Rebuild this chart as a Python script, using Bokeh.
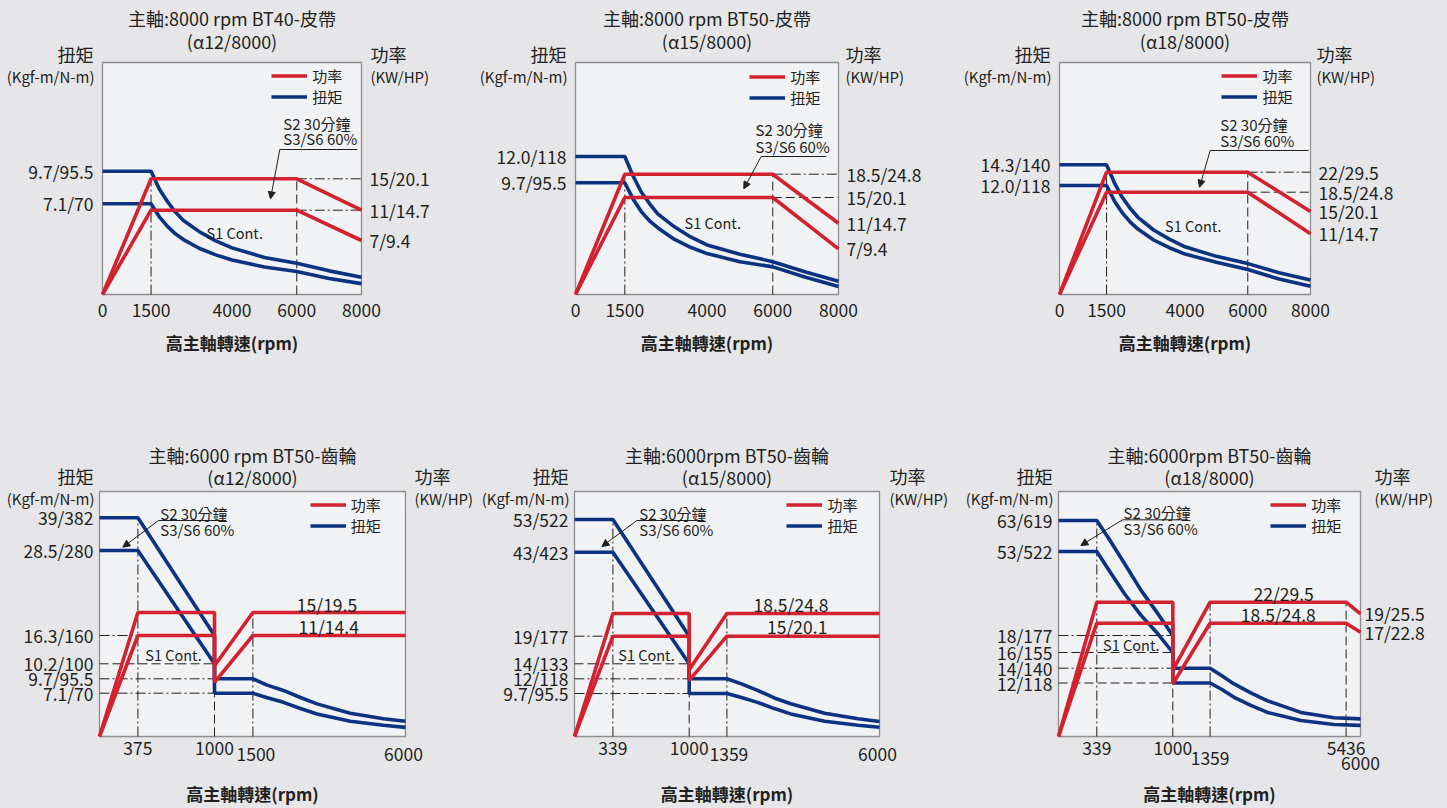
import numpy as np
from bokeh.plotting import figure
from bokeh.layouts import row, column
from bokeh.models import (Range1d, FixedTicker, Label, Arrow, NormalHead,
                          Legend, LegendItem, LinearAxis)
from bokeh.embed import file_html
from bokeh.resources import INLINE

# ============================ DATA ============================
# ---- Panel 1 : 8000 rpm BT40 belt (a12/8000)
P1_TITLE = ["主軸:8000 rpm BT40-皮帶", "(α12/8000)"]
P1_X_TICKS = [0, 1500, 4000, 6000, 8000]
P1_TQ_TICKS = [9.7, 7.1]
P1_TQ_LABELS = ["9.7/95.5", "7.1/70"]
P1_PW_TICKS = [15, 11, 7]
P1_PW_LABELS = ["15/20.1", "11/14.7", "7/9.4"]
P1_RPM_T = [0, 1500, 1750, 2000, 2250, 2500, 3000, 3500, 4000, 5000, 6000, 7000, 8000]
P1_TQ_S2 = [9.7, 9.7, 8.3, 7.3, 6.45, 5.8, 4.9, 4.2, 3.65, 2.9, 2.45, 1.85, 1.35]
P1_TQ_S1 = [7.1, 7.1, 6.1, 5.35, 4.75, 4.3, 3.6, 3.1, 2.7, 2.15, 1.8, 1.25, 0.85]
P1_RPM_P = [0, 1500, 6000, 8000]
P1_PW_S2 = [0, 15, 15, 11]
P1_PW_S1 = [0, 11, 11, 7]

# ---- Panel 2 : 8000 rpm BT50 belt (a15/8000)
P2_TITLE = ["主軸:8000 rpm BT50-皮帶", "(α15/8000)"]
P2_X_TICKS = [0, 1500, 4000, 6000, 8000]
P2_TQ_TICKS = [12.0, 9.7]
P2_TQ_LABELS = ["12.0/118", "9.7/95.5"]
P2_PW_TICKS = [18.5, 15, 11, 7]
P2_PW_LABELS = ["18.5/24.8", "15/20.1", "11/14.7", "7/9.4"]
P2_RPM_T = [0, 1500, 1750, 2000, 2250, 2500, 3000, 3500, 4000, 5000, 6000, 7000, 8000]
P2_TQ_S2 = [12.0, 12.0, 10.3, 8.9, 7.9, 7.0, 5.9, 5.0, 4.3, 3.5, 2.85, 1.95, 1.15]
P2_TQ_S1 = [9.7, 9.7, 8.3, 7.2, 6.4, 5.8, 4.8, 4.1, 3.55, 2.85, 2.4, 1.5, 0.7]
P2_RPM_P = [0, 1500, 6000, 8000]
P2_PW_S2 = [0, 18.5, 18.5, 11]
P2_PW_S1 = [0, 15, 15, 7]

# ---- Panel 3 : 8000 rpm BT50 belt (a18/8000)
P3_TITLE = ["主軸:8000 rpm BT50-皮帶", "(α18/8000)"]
P3_X_TICKS = [0, 1500, 4000, 6000, 8000]
P3_TQ_TICKS = [14.3, 12.0]
P3_TQ_LABELS = ["14.3/140", "12.0/118"]
P3_PW_TICKS = [22, 18.5, 15, 11]
P3_PW_LABELS = ["22/29.5", "18.5/24.8", "15/20.1", "11/14.7"]
P3_RPM_T = [0, 1500, 1750, 2000, 2250, 2500, 3000, 3500, 4000, 5000, 6000, 7000, 8000]
P3_TQ_S2 = [14.3, 14.3, 12.3, 10.7, 9.5, 8.5, 7.1, 6.1, 5.25, 4.2, 3.4, 2.4, 1.6]
P3_TQ_S1 = [12.0, 12.0, 10.3, 9.0, 8.0, 7.2, 6.0, 5.15, 4.45, 3.55, 2.75, 1.7, 0.9]
P3_RPM_P = [0, 1500, 6000, 8000]
P3_PW_S2 = [0, 22, 22, 15]
P3_PW_S1 = [0, 18.5, 18.5, 11]

# ---- Panel 4 : 6000 rpm BT50 gear (a12/8000)
P4_TITLE = ["主軸:6000 rpm BT50-齒輪", "(α12/8000)"]
P4_X_TICKS = [375, 1000]
P4_X_TICKS_LOW = [1500, 6000]
P4_TQ_TICKS = [39, 28.5, 16.3, 10.2, 9.7, 7.1]
P4_TQ_LABELS = ["39/382", "28.5/280", "16.3/160", "10.2/100", "9.7/95.5", "7.1/70"]
P4_RPM_T = [0, 375, 1000, 1000, 1500, 1900, 2400, 2900, 3390, 4370, 5350, 6000]
P4_TQ_S2 = [39, 39, 16.3, 9.7, 9.7, 8.6, 7.6, 6.4, 5.35, 3.8, 2.9, 2.5]
P4_TQ_S1 = [28.5, 28.5, 10.2, 7.1, 7.1, 6.4, 5.6, 4.6, 3.7, 2.5, 1.85, 1.5]
P4_RPM_P = [0, 375, 1000, 1000, 1500, 6000]
P4_PW_S2 = [0, 15, 15, 7.7, 15, 15]
P4_PW_S1 = [0, 11, 11, 5.9, 11, 11]
P4_PW_TEXT = ["15/19.5", "11/14.4"]

# ---- Panel 5 : 6000 rpm BT50 gear (a15/8000)
P5_TITLE = ["主軸:6000rpm BT50-齒輪", "(α15/8000)"]
P5_X_TICKS = [339, 1000]
P5_X_TICKS_LOW = [1359, 6000]
P5_TQ_TICKS = [53, 43, 19, 14, 12, 9.7]
P5_TQ_LABELS = ["53/522", "43/423", "19/177", "14/133", "12/118", "9.7/95.5"]
P5_RPM_T = [0, 339, 1000, 1000, 1359, 1800, 2290, 2800, 3300, 4330, 5350, 6000]
P5_TQ_S2 = [53, 53, 19, 12, 12, 11.2, 10.2, 8.7, 7.4, 5.25, 4.0, 3.4]
P5_TQ_S1 = [43, 43, 14, 9.7, 9.7, 8.8, 7.7, 6.3, 5.1, 3.45, 2.55, 2.1]
P5_RPM_P = [0, 339, 1000, 1000, 1359, 6000]
P5_PW_S2 = [0, 18.5, 18.5, 10, 18.5, 18.5]
P5_PW_S1 = [0, 15, 15, 8.4, 15, 15]
P5_PW_TEXT = ["18.5/24.8", "15/20.1"]

# ---- Panel 6 : 6000 rpm BT50 gear (a18/8000)
P6_TITLE = ["主軸:6000rpm BT50-齒輪", "(α18/8000)"]
P6_X_TICKS = [339, 1000, 5436]
P6_X_TICKS_LOW = [1359, 6000]
P6_TQ_TICKS = [63, 53, 18, 16, 14, 12]
P6_TQ_LABELS = ["63/619", "53/522", "18/177", "16/155", "14/140", "12/118"]
P6_PW_TICKS = [19, 17]
P6_PW_LABELS = ["19/25.5", "17/22.8"]
P6_RPM_T = [0, 339, 435, 580, 724, 870, 1000, 1000, 1359, 1700, 2078, 2580, 3080,
            4078, 5076, 6000]
P6_TQ_S2 = [63, 63, 57.7, 48, 36.8, 27.1, 18, 14, 14, 13.0, 11.8, 9.8, 8.0,
            5.4, 4.2, 3.95]
P6_TQ_S1 = [53, 53, 45.9, 35.4, 26.4, 18.7, 16, 12, 12, 10.6, 8.8, 7.0, 5.4,
            3.6, 2.7, 2.5]
P6_RPM_P = [0, 339, 1000, 1000, 1359, 5436, 6000]
P6_PW_S2 = [0, 22, 22, 10.8, 22, 22, 19]
P6_PW_S1 = [0, 18.5, 18.5, 8.6, 18.5, 18.5, 17]
P6_PW_TEXT = ["22/29.5", "18.5/24.8"]

X_TITLE = "高主軸轉速(rpm)"
TQ_TITLE = ["扭矩", "(Kgf-m/N-m)"]
PW_TITLE = ["功率", "(KW/HP)"]
LEGEND_TEXT = ["功率", "扭矩"]
S2_TEXT = ["S2 30分鐘", "S3/S6 60%"]
S1_TEXT = "S1 Cont."

# ============================ STYLE ============================
FONT = "Noto Sans CJK TC"
RED = "#d2212f"
BLUE = "#0c3282"
TXT = "#231f20"
BG = "#e6e6e8"
PLOT_BG = "#f1f2f4"
FRAME = "#8e8e90"
DD = "10 3 2 3"   # dash-dot
DA = "9 4"        # dashed
LW = 3.6
TICK_FS = "17.5px"


def sc(v, src, dst):
    return np.round(np.interp(np.asarray(v, dtype=float), src, dst), 2)


def make_panel(c):
    W, H = c["W"], c["H"]
    bl, br, bt, bb = c["bl"], c["br"], c["bt"], c["bb"]
    p = figure(width=bl + W + br, height=bt + H + bb, min_border=0,
               x_range=Range1d(-bl, W + br), y_range=Range1d(-bb, H + bt),
               x_axis_location=None, y_axis_location=None,
               output_backend="svg", toolbar_location=None, tools="")
    p.background_fill_color = BG
    p.border_fill_color = BG
    p.outline_line_color = None
    p.grid.visible = False

    # plot area
    p.quad(left=[0], right=[W], bottom=[0], top=[H], fill_color=PLOT_BG,
           line_color=FRAME, line_width=1.3)

    fx = lambda v: sc(v, c["xs"][0], c["xs"][1])
    ft = lambda v: sc(v, c["ts"][0], c["ts"][1])
    fp = lambda v: sc(v, c["ps"][0], c["ps"][1])

    def make_axis(loc, ticks, labels, standoff):
        ax = LinearAxis(fixed_location=loc, ticker=FixedTicker(ticks=ticks),
                        major_label_overrides={t: s for t, s in zip(ticks, labels)})
        ax.axis_line_color = None
        ax.major_tick_line_color = None
        ax.minor_tick_line_color = None
        ax.major_tick_in = 0
        ax.major_tick_out = 0
        ax.major_label_standoff = standoff
        ax.major_label_text_font = FONT
        ax.major_label_text_font_size = TICK_FS
        ax.major_label_text_color = TXT
        return ax

    xt = [float(v) for v in fx(c["xticks"])]
    p.add_layout(make_axis(0, xt, [str(v) for v in c["xticks"]], c["xstand"]), "below")
    yt = [float(v) for v in ft(c["tqticks"])]
    p.add_layout(make_axis(0, yt, c["tqlabels"], c["ystand"]), "left")
    if c.get("pwticks"):
        pt = [float(v) for v in fp(c["pwticks"])]
        p.add_layout(make_axis(W, pt, c["pwlabels"], c["rstand"]), "right")

    # guide lines
    for (rpm, top, kind, dash) in c["vguides"]:
        yv = ft(top) if kind == "tq" else fp(top)
        p.segment(x0=[fx(rpm)], y0=[0], x1=[fx(rpm)], y1=[yv],
                  line_color=TXT, line_width=1, line_dash=dash)
    for (val, kind, r0, r1, dash) in c["hguides"]:
        yv = ft(val) if kind == "tq" else fp(val)
        p.segment(x0=[fx(r0)], y0=[yv], x1=[fx(r1)], y1=[yv],
                  line_color=TXT, line_width=1, line_dash=dash)

    # curves
    rt2 = p.line(fx(c["rpm_t"]), ft(c["tq_s2"]), line_color=BLUE, line_width=LW)
    p.line(fx(c["rpm_t"]), ft(c["tq_s1"]), line_color=BLUE, line_width=LW)
    rp2 = p.line(fx(c["rpm_p"]), fp(c["pw_s2"]), line_color=RED, line_width=LW)
    p.line(fx(c["rpm_p"]), fp(c["pw_s1"]), line_color=RED, line_width=LW)

    def lab(x, y, text, size, align="center", bold=False):
        p.add_layout(Label(x=x, y=y, text=text, text_font=FONT,
                           text_font_size=size, text_align=align,
                           text_baseline="middle", text_color=TXT,
                           text_font_style="bold" if bold else "normal"))

    # titles
    lab(W / 2, H + c["t1"], c["title"][0], "18px")
    lab(W / 2, H + c["t2"], c["title"][1], "18px")
    lab(-c["lgap"], H + c["yt1"], TQ_TITLE[0], "18px", "right")
    lab(-c["lgap"] + 1, H + c["yt2"], TQ_TITLE[1], "15px", "right")
    lab(W + c["rgap"], H + c["yt1"], PW_TITLE[0], "18px", "left")
    lab(W + c["rgap"], H + c["yt2"], PW_TITLE[1], "15px", "left")
    lab(W / 2, -c["xtitle"], X_TITLE, "17px", bold=True)

    # lower row of x tick labels
    for (rpm, dx, dy) in c.get("xlow", []):
        lab(float(fx(rpm)) + dx, -dy, str(rpm), TICK_FS)

    # S2 annotation
    sx, sy1, sy2, ux0, ux1, uy, ax1, ay1 = c["s2"]
    lab(sx, sy1, S2_TEXT[0], "15px", "left")
    lab(sx, sy2, S2_TEXT[1], "15px", "left")
    p.segment(x0=[ux0], y0=[uy], x1=[ux1], y1=[uy], line_color=TXT, line_width=1)
    p.add_layout(Arrow(end=NormalHead(size=7, fill_color=TXT, line_color=TXT, line_width=1),
                       x_start=ux0, y_start=uy, x_end=ax1, y_end=ay1,
                       line_color=TXT, line_width=1))
    lab(c["s1"][0], c["s1"][1], S1_TEXT, "14.5px")

    # power texts inside (gear panels)
    for (txt, (x, y)) in zip(c.get("pwtext", []), c.get("pwtext_pos", [])):
        lab(x, y, txt, TICK_FS)

    # legend (two rows, no frame)
    lx, ly = c["leg"]
    leg = Legend(items=[LegendItem(label=LEGEND_TEXT[0], renderers=[rp2]),
                        LegendItem(label=LEGEND_TEXT[1], renderers=[rt2])],
                 location=(bl + lx, bb + ly - 28.5), glyph_width=36, glyph_height=19,
                 label_height=19, label_standoff=5, spacing=0, padding=0,
                 margin=0, border_line_color=None, background_fill_alpha=0,
                 label_text_font=FONT, label_text_font_size="15px",
                 label_text_color=TXT)
    p.add_layout(leg, "center")
    return p


TOPC = dict(H=232, bt=54, bb=136, t1=45, t2=22, yt1=9, yt2=-14, lgap=9,
            xtitle=48, xstand=9, ystand=9, rstand=8)
BOTC = dict(H=245, bt=61, bb=64, t1=37, t2=14.3, yt1=16, yt2=-6.7, lgap=6,
            xtitle=57.3, xstand=5, ystand=6, rstand=4)
EDGE = 8  # outer page margin, drawn as part of the outer figures

cfgs = [
    dict(TOPC, W=259, bl=94 + EDGE, br=114, rgap=9, title=P1_TITLE,
         xs=([0, 8000], [0, 259]), ts=([0, 7.1, 9.7], [0, 90.7, 123.3]),
         ps=([0, 7, 11, 15], [0, 54, 84.3, 115.7]),
         xticks=P1_X_TICKS, tqticks=P1_TQ_TICKS, tqlabels=P1_TQ_LABELS,
         pwticks=P1_PW_TICKS, pwlabels=P1_PW_LABELS,
         rpm_t=P1_RPM_T, tq_s2=P1_TQ_S2, tq_s1=P1_TQ_S1,
         rpm_p=P1_RPM_P, pw_s2=P1_PW_S2, pw_s1=P1_PW_S1,
         vguides=[(1500, 15, "pw", DD), (6000, 15, "pw", DA)],
         hguides=[(15, "pw", 6000, 8000, DD), (11, "pw", 6000, 8000, DD)],
         s2=(180.7, 171.3, 155.7, 177.3, 254.7, 145, 168, 95.7), s1=(132.2, 62),
         leg=(169.3, 216)),
    dict(TOPC, W=263, bl=100, br=117, rgap=7, title=P2_TITLE,
         xs=([0, 8000], [0, 263]), ts=([0, 9.7, 12.0], [0, 111.7, 138]),
         ps=([0, 7, 11, 15, 18.5], [0, 45.7, 71.3, 97, 120.3]),
         xticks=P2_X_TICKS, tqticks=P2_TQ_TICKS, tqlabels=P2_TQ_LABELS,
         pwticks=P2_PW_TICKS, pwlabels=P2_PW_LABELS,
         rpm_t=P2_RPM_T, tq_s2=P2_TQ_S2, tq_s1=P2_TQ_S1,
         rpm_p=P2_RPM_P, pw_s2=P2_PW_S2, pw_s1=P2_PW_S1,
         vguides=[(1500, 18.5, "pw", DD), (6000, 18.5, "pw", DA)],
         hguides=[(18.5, "pw", 6000, 8000, DD), (15, "pw", 6000, 8000, DA)],
         s2=(180, 164.7, 148.3, 185.7, 250.7, 138, 168.3, 105.7), s1=(137.2, 72.3),
         leg=(174.3, 214.7)),
    dict(TOPC, W=251, bl=104, br=129 + EDGE, rgap=6, title=P3_TITLE,
         xs=([0, 8000], [0, 251]), ts=([0, 12.0, 14.3], [0, 109, 129.7]),
         ps=([0, 11, 15, 18.5, 22], [0, 60.7, 83, 102.3, 122.3]),
         xticks=P3_X_TICKS, tqticks=P3_TQ_TICKS, tqlabels=P3_TQ_LABELS,
         pwticks=P3_PW_TICKS, pwlabels=P3_PW_LABELS,
         rpm_t=P3_RPM_T, tq_s2=P3_TQ_S2, tq_s1=P3_TQ_S1,
         rpm_p=P3_RPM_P, pw_s2=P3_PW_S2, pw_s1=P3_PW_S1,
         vguides=[(1500, 22, "pw", DD), (6000, 22, "pw", DA)],
         hguides=[(22, "pw", 6000, 8000, DD), (18.5, "pw", 6000, 8000, DA)],
         s2=(160.7, 169.7, 154, 150.7, 249, 144, 140, 107.3), s1=(133.7, 69),
         leg=(162.4, 216)),
    dict(BOTC, W=306, bl=91 + EDGE, br=75, rgap=9, title=P4_TITLE,
         xs=([0, 375, 1000, 1500, 6000], [0, 38.4, 115, 153.4, 306]),
         ts=([0, 7.1, 9.7, 10.2, 16.3, 28.5, 39], [0, 43.3, 57.7, 72.7, 101, 186, 218.7]),
         ps=([0, 11, 15], [0, 101, 124]),
         xticks=P4_X_TICKS, xlow=[(P4_X_TICKS_LOW[0], 3, 18), (P4_X_TICKS_LOW[1], -2, 18)],
         tqticks=P4_TQ_TICKS, tqlabels=P4_TQ_LABELS,
         rpm_t=P4_RPM_T, tq_s2=P4_TQ_S2, tq_s1=P4_TQ_S1,
         rpm_p=P4_RPM_P, pw_s2=P4_PW_S2, pw_s1=P4_PW_S1,
         vguides=[(375, 39, "tq", DD), (1000, 15, "pw", DA), (1500, 15, "pw", DD)],
         hguides=[(16.3, "tq", 0, 1000, DD), (10.2, "tq", 0, 1000, DA),
                  (9.7, "tq", 0, 1000, DD), (7.1, "tq", 0, 1000, DD)],
         s2=(60.7, 223.3, 207, 59, 126.7, 216, 23.4, 189.3), s1=(74, 82),
         pwtext=P4_PW_TEXT, pwtext_pos=[(227.5, 132), (229.2, 110)],
         leg=(210.7, 228.3)),
    dict(BOTC, W=305, bl=94, br=81, rgap=10, title=P5_TITLE,
         xs=([0, 339, 1000, 1359, 6000], [0, 38.4, 114.7, 152.4, 305]),
         ts=([0, 9.7, 12, 14, 19, 43, 53], [0, 43, 57.7, 72.7, 100.3, 184.3, 217]),
         ps=([0, 15, 18.5], [0, 100.3, 123]),
         xticks=P5_X_TICKS, xlow=[(P5_X_TICKS_LOW[0], 2, 18), (P5_X_TICKS_LOW[1], -2, 18)],
         tqticks=P5_TQ_TICKS, tqlabels=P5_TQ_LABELS,
         rpm_t=P5_RPM_T, tq_s2=P5_TQ_S2, tq_s1=P5_TQ_S1,
         rpm_p=P5_RPM_P, pw_s2=P5_PW_S2, pw_s1=P5_PW_S1,
         vguides=[(339, 53, "tq", DD), (1000, 18.5, "pw", DA), (1359, 18.5, "pw", DD)],
         hguides=[(19, "tq", 0, 1000, DD), (14, "tq", 0, 1000, DA),
                  (12, "tq", 0, 1000, DD), (9.7, "tq", 0, 1000, DD)],
         s2=(64.7, 223.3, 207, 62.4, 130, 216, 27.4, 190), s1=(72, 82),
         pwtext=P5_PW_TEXT, pwtext_pos=[(216.5, 132), (222.7, 110)],
         leg=(212.4, 228.7)),
    dict(BOTC, W=302, bl=98, br=79 + EDGE, rgap=14, title=P6_TITLE,
         xs=([0, 339, 1000, 1359, 5436, 6000], [0, 38.3, 114.3, 151.6, 287.6, 302]),
         ts=([0, 12, 14, 16, 18, 53, 63], [0, 53.5, 68.3, 84, 101, 185, 216]),
         ps=([0, 17, 18.5, 19, 22], [0, 104.3, 113.3, 122.7, 134.3]),
         xticks=P6_X_TICKS, xlow=[(P6_X_TICKS_LOW[0], 0, 22.3), (P6_X_TICKS_LOW[1], 0, 27.3)],
         tqticks=P6_TQ_TICKS, tqlabels=P6_TQ_LABELS,
         pwticks=P6_PW_TICKS, pwlabels=P6_PW_LABELS,
         rpm_t=P6_RPM_T, tq_s2=P6_TQ_S2, tq_s1=P6_TQ_S1,
         rpm_p=P6_RPM_P, pw_s2=P6_PW_S2, pw_s1=P6_PW_S1,
         vguides=[(339, 63, "tq", DD), (1000, 22, "pw", DA), (1359, 22, "pw", DD),
                  (5436, 22, "pw", DA)],
         hguides=[(18, "tq", 0, 1000, DD), (16, "tq", 0, 1000, DA),
                  (14, "tq", 0, 1000, DD), (12, "tq", 0, 1000, DA)],
         s2=(65, 224.3, 208.3, 64, 129.6, 216.7, 22.3, 191), s1=(72.8, 92),
         pwtext=P6_PW_TEXT, pwtext_pos=[(225.1, 142.7), (219.8, 122)],
         leg=(212.3, 228.7)),
]
for c in cfgs[:3]:
    c["bt"] += EDGE
for c in cfgs[3:]:
    c["bb"] += EDGE

panels = [make_panel(c) for c in cfgs]
layout = column(row(*panels[:3], spacing=0), row(*panels[3:], spacing=0), spacing=0)

html = file_html(layout, INLINE, title="spindle charts")
i = html.find("<body", html.find("</head>"))
html = html[:i] + '<body style="background-color:#e6e6e8;margin:0;overflow:hidden"' + html[i + 5:]
open("out.html", "w").write(html)
